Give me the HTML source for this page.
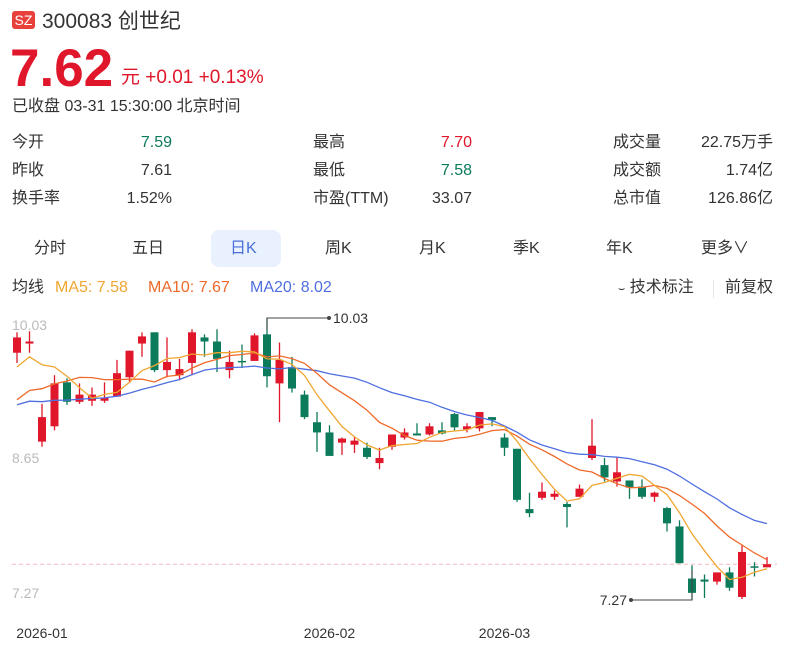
<!DOCTYPE html>
<html><head><meta charset="utf-8">
<style>
body{margin:0;width:789px;height:655px;background:#fff;font-family:"Liberation Sans","Noto Sans CJK SC",sans-serif;color:#333;position:relative;overflow:hidden}
.a{position:absolute;white-space:nowrap;line-height:20px}
.red{color:#e0162b}.grn{color:#0c7b5c}
.lab{font-size:16px;color:#333}
.val{font-size:16px;text-align:right;width:100px}
.tab{font-size:16px;color:#333;top:239px}
</style></head><body>
<div class="a" style="left:12px;top:11px;width:23px;height:18px;background:#e8413c;border-radius:3px;color:#fff;font-size:14px;line-height:18px;text-align:center">SZ</div>
<div class="a" style="left:42px;top:10px;font-size:21px;line-height:24px;color:#333">300083 创世纪</div>
<div class="a red" style="left:10px;top:44px;font-size:53px;line-height:50px;font-weight:bold">7.62</div>
<div class="a red" style="left:121px;top:68px;font-size:19px">元 +0.01 +0.13%</div>
<div class="a" style="left:12px;top:97px;font-size:16px">已收盘 03-31 15:30:00 北京时间</div>

<div class="a lab" style="left:12px;top:133px">今开</div>
<div class="a val grn" style="left:72px;top:133px">7.59</div>
<div class="a lab" style="left:12px;top:161px">昨收</div>
<div class="a val" style="left:72px;top:161px">7.61</div>
<div class="a lab" style="left:12px;top:189px">换手率</div>
<div class="a val" style="left:72px;top:189px">1.52%</div>
<div class="a lab" style="left:313px;top:133px">最高</div>
<div class="a val red" style="left:372px;top:133px">7.70</div>
<div class="a lab" style="left:313px;top:161px">最低</div>
<div class="a val grn" style="left:372px;top:161px">7.58</div>
<div class="a lab" style="left:313px;top:189px">市盈(TTM)</div>
<div class="a val" style="left:372px;top:189px">33.07</div>
<div class="a lab" style="left:613px;top:133px">成交量</div>
<div class="a val" style="left:673px;top:133px">22.75万手</div>
<div class="a lab" style="left:613px;top:161px">成交额</div>
<div class="a val" style="left:673px;top:161px">1.74亿</div>
<div class="a lab" style="left:613px;top:189px">总市值</div>
<div class="a val" style="left:673px;top:189px">126.86亿</div>

<div class="a" style="left:211px;top:230px;width:70px;height:37px;background:#e8f1fd;border-radius:8px"></div>
<div class="a tab" style="left:34px">分时</div>
<div class="a tab" style="left:132px">五日</div>
<div class="a tab" style="left:230px;color:#4a6fd8">日K</div>
<div class="a tab" style="left:325px">周K</div>
<div class="a tab" style="left:419px">月K</div>
<div class="a tab" style="left:513px">季K</div>
<div class="a tab" style="left:606px">年K</div>
<div class="a tab" style="left:701px">更多∨</div>

<div class="a" style="left:12px;top:278px;font-size:16px">均线</div>
<div class="a" style="left:55px;top:278px;font-size:16px;color:#f0a630">MA5: 7.58</div>
<div class="a" style="left:148px;top:278px;font-size:16px;color:#ee6a2a">MA10: 7.67</div>
<div class="a" style="left:250px;top:278px;font-size:16px;color:#4f6fe0">MA20: 8.02</div>
<div class="a" style="left:618px;top:278px;font-size:16px"><span style="font-size:11px">⌣</span> 技术标注</div>
<div class="a" style="left:713px;top:280px;width:1px;height:18px;background:#e5e5e5"></div>
<div class="a" style="left:725px;top:278px;font-size:16px">前复权</div>

<svg class="a" style="left:0;top:0;line-height:normal" width="789" height="655" id="chart"></svg>
<script>
const dates=["2026-01","2026-02","2026-03"];
const dateIdx=[2,25,39];
const yTicks=[10.03,8.65,7.27];
const priorCloses=[9.10,9.15,9.12,9.18,9.10,9.14,9.13,9.16,9.11,9.12,8.90,8.88,8.92,8.93,8.92,9.30,9.45,9.50,9.66];
const opens=[9.69,9.78,8.82,8.97,9.40,9.21,9.22,9.22,9.26,9.45,9.78,9.89,9.52,9.47,9.59,9.84,9.80,9.52,9.61,9.61,9.87,9.39,9.55,9.28,9.01,8.91,8.81,8.79,8.76,8.61,8.77,8.86,8.90,8.89,8.93,9.09,8.94,8.95,9.06,8.86,8.75,8.16,8.27,8.28,8.21,8.28,8.66,8.59,8.43,8.44,8.38,8.28,8.17,7.99,7.48,7.47,7.45,7.54,7.30,7.60,7.59];
const highs=[9.89,9.90,9.19,9.47,9.44,9.39,9.35,9.40,9.62,9.71,9.89,9.89,9.84,9.63,9.92,9.87,9.92,9.71,9.77,9.88,10.03,9.79,9.65,9.32,9.11,8.98,8.86,8.87,8.81,8.76,8.89,8.95,9.00,9.00,9.01,9.10,9.00,9.11,9.06,8.90,8.75,8.32,8.42,8.34,8.23,8.40,9.04,8.66,8.67,8.44,8.45,8.33,8.18,8.05,7.61,7.52,7.54,7.59,7.81,7.64,7.69];
const lows=[9.59,9.69,8.77,8.93,9.18,9.19,9.17,9.20,9.26,9.40,9.65,9.50,9.45,9.42,9.47,9.65,9.50,9.44,9.54,9.61,9.35,9.01,9.30,9.04,8.72,8.69,8.69,8.71,8.65,8.55,8.74,8.84,8.88,8.88,8.89,8.93,8.91,8.92,8.97,8.68,8.23,8.08,8.25,8.25,7.98,8.28,8.64,8.43,8.38,8.26,8.26,8.23,7.94,7.63,7.27,7.29,7.42,7.36,7.28,7.50,7.59];
const closes=[9.84,9.80,9.06,9.39,9.21,9.28,9.28,9.25,9.49,9.71,9.85,9.52,9.60,9.53,9.89,9.80,9.63,9.60,9.60,9.86,9.46,9.62,9.34,9.06,8.91,8.68,8.85,8.83,8.67,8.66,8.89,8.91,8.88,8.97,8.90,8.96,8.97,9.11,9.03,8.76,8.25,8.12,8.33,8.31,8.18,8.36,8.78,8.47,8.52,8.37,8.28,8.32,8.02,7.63,7.34,7.45,7.54,7.39,7.74,7.59,7.62];

const svg=document.getElementById('chart');const NS='http://www.w3.org/2000/svg';
const X=i=>17+i*12.5;
const Y=p=>318+(10.03-p)*(282/2.76);
function mk(t,at){const e=document.createElementNS(NS,t);for(const k in at)e.setAttribute(k,at[k]);svg.appendChild(e);return e;}
const lc=closes[closes.length-1];
let dl=mk('line',{x1:12,x2:777,y1:Y(lc),y2:Y(lc),stroke:'#f4b7bd','stroke-dasharray':'4,3','stroke-width':1});

yTicks.forEach((v,k)=>{const t=mk('text',{x:12,y:Y(v)+(k==0?12:k==1?4:-2),fill:'#bbb','font-size':14});t.textContent=v.toFixed(2);
});
dates.forEach((d,k)=>{const t=mk('text',{x:X(dateIdx[k]),y:638,fill:'#333','font-size':14,'text-anchor':'middle'});t.textContent=d;
});
for(let i=0;i<closes.length;i++){
 const up=closes[i]>=opens[i];const col=up?'#e0162b':'#0c7b5c';
 const g=mk('g',{});
 const w=document.createElementNS(NS,'line');
 w.setAttribute('x1',X(i));w.setAttribute('x2',X(i));w.setAttribute('y1',Y(highs[i]));w.setAttribute('y2',Y(lows[i]));w.setAttribute('stroke',col);w.setAttribute('stroke-width',1.3);g.appendChild(w);
 const r=document.createElementNS(NS,'rect');
 const t=Y(Math.max(opens[i],closes[i])),b=Y(Math.min(opens[i],closes[i]));
 r.setAttribute('x',X(i)-4);r.setAttribute('width',8);r.setAttribute('y',t);r.setAttribute('height',Math.max(1.5,b-t));r.setAttribute('fill',col);g.appendChild(r);
}
const all=priorCloses.concat(closes);
function ma(n,color,name){let pts=[];for(let i=0;i<closes.length;i++){const j=i+priorCloses.length;let s=0,c=0;for(let k=Math.max(0,j-n+1);k<=j;k++){s+=all[k];c++;}pts.push(X(i).toFixed(1)+','+Y(s/c).toFixed(1));}
 const p=mk('polyline',{points:pts.join(' '),fill:'none',stroke:color,'stroke-width':1.3});}
ma(20,'#4f6fe0','ma20-line');ma(10,'#ee6a2a','ma10-line');ma(5,'#f0a630','ma5-line');
let hi=0,lo=0;for(let i=0;i<highs.length;i++){if(highs[i]>highs[hi])hi=i;if(lows[i]<lows[lo])lo=i;}
let hl=mk('polyline',{points:`${X(hi)},${Y(highs[hi])+12} ${X(hi)},${Y(highs[hi])} ${X(hi)+62},${Y(highs[hi])}`,fill:'none',stroke:'#444','stroke-width':1});

mk('circle',{cx:X(hi)+62,cy:Y(highs[hi]),r:2,fill:'#444'});
let ht=mk('text',{x:X(hi)+66,y:Y(highs[hi])+5,fill:'#333','font-size':14});ht.textContent=highs[hi].toFixed(2);

let ll=mk('polyline',{points:`${X(lo)},${Y(lows[lo])-30} ${X(lo)},${Y(lows[lo])} ${X(lo)-61},${Y(lows[lo])}`,fill:'none',stroke:'#444','stroke-width':1});

mk('circle',{cx:X(lo)-61,cy:Y(lows[lo]),r:2,fill:'#444'});
let lt=mk('text',{x:X(lo)-65,y:Y(lows[lo])+5,fill:'#333','font-size':14,'text-anchor':'end'});lt.textContent=lows[lo].toFixed(2);

</script>
</body></html>
